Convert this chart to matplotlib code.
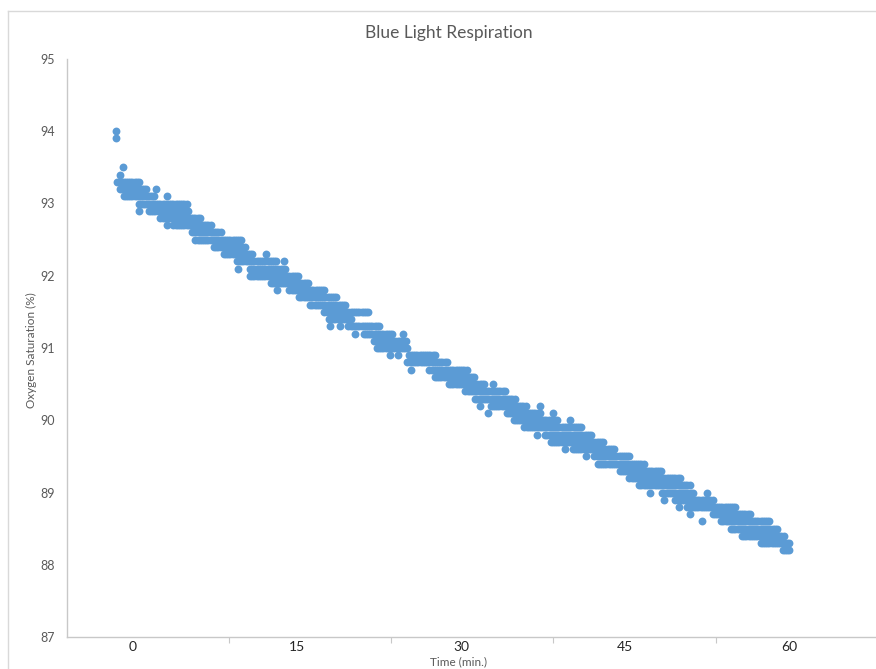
import numpy as np
import matplotlib
matplotlib.use("Agg")
import matplotlib.pyplot as plt
from matplotlib.lines import Line2D

# Oxygen saturation readings (%), read off the chart as horizontal runs of
# samples: each run is one saturation level held from run_start to run_end (min).
run_level = [
    94.0, 93.9, 93.5, 93.4, 93.3, 93.2, 93.2, 93.1, 93.1, 93.0,
    92.9, 92.9, 92.8, 92.7, 92.7, 92.6, 92.5, 92.4, 92.3, 92.3,
    92.2, 92.2, 92.1, 92.1, 92.0, 91.9, 91.8, 91.8, 91.7, 91.6,
    91.5, 91.4, 91.3, 91.3, 91.3, 91.2, 91.2, 91.2, 91.1, 91.0,
    90.9, 90.9, 90.9, 90.8, 90.7, 90.7, 90.6, 90.5, 90.5, 90.4,
    90.3, 90.2, 90.2, 90.2, 90.1, 90.1, 90.1, 90.0, 90.0, 89.9,
    89.8, 89.8, 89.7, 89.6, 89.6, 89.5, 89.5, 89.4, 89.3, 89.2,
    89.1, 89.0, 89.0, 89.0, 88.9, 88.9, 88.8, 88.8, 88.7, 88.7,
    88.6, 88.6, 88.5, 88.4, 88.3, 88.2,
]
run_start = [
    -1.55, -1.55, -0.9, -1.2, -1.45, -1.2, 2.1, -0.85, 3.1, 0.5,
    0.55, 1.45, 2.5, 3.1, 3.7, 5.4, 5.7, 7.4, 8.3, 12.2,
    9.5, 13.8, 9.6, 10.7, 10.7, 12.6, 13.2, 14.3, 15.2, 16.2,
    17.5, 17.9, 18.0, 18.9, 19.7, 20.3, 21.1, 24.7, 22.0, 22.3,
    23.5, 24.2, 25.2, 25.1, 25.4, 27.1, 27.6, 28.9, 32.9, 30.4,
    31.3, 31.7, 32.7, 37.2, 32.5, 34.2, 38.4, 34.8, 40.0, 35.8,
    36.9, 37.7, 38.2, 39.5, 40.2, 41.4, 42.2, 42.5, 44.5, 45.4,
    46.3, 47.3, 48.4, 52.5, 48.6, 49.6, 49.9, 50.7, 50.9, 53.0,
    52.0, 53.8, 54.7, 55.7, 57.4, 59.4,
]
run_end = [
    -1.55, -1.55, -0.9, -1.2, 0.6, 1.2, 2.1, 2.0, 3.1, 5.0,
    0.55, 5.2, 6.2, 3.1, 7.1, 8.0, 10.0, 10.2, 11.0, 12.2,
    13.1, 13.8, 9.6, 14.0, 15.1, 16.0, 13.2, 17.5, 18.7, 19.4,
    21.5, 20.0, 18.0, 18.9, 22.5, 20.3, 23.8, 24.7, 25.1, 25.1,
    23.5, 24.2, 27.6, 28.8, 25.4, 30.6, 31.2, 32.1, 32.9, 34.0,
    34.9, 31.7, 36.0, 37.2, 32.5, 37.3, 38.4, 38.9, 40.0, 41.0,
    36.9, 41.9, 43.1, 39.5, 44.0, 41.4, 45.4, 46.8, 48.3, 50.0,
    50.9, 47.3, 51.2, 52.5, 48.6, 53.0, 49.9, 55.2, 50.9, 56.5,
    52.0, 58.2, 59.0, 59.6, 60.1, 60.1,
]
sample_step = 0.2  # minutes between logged samples

x_tick_values = [0, 15, 30, 45, 60]
y_tick_values = [87, 88, 89, 90, 91, 92, 93, 94, 95]

times, sats = [], []
for lvl, t0, t1 in zip(run_level, run_start, run_end):
    ts = np.arange(t0, t1 + 1e-9, sample_step)
    times.extend(ts)
    sats.extend([lvl] * len(ts))

plt.rcParams["font.family"] = ["Lato", "DejaVu Sans"]

fig = plt.figure(figsize=(8.76, 6.69), dpi=100)
ax = fig.add_axes([67 / 876, 32 / 669, 1 - 67 / 876, 578 / 669])

ax.scatter(times, sats, s=32, color="#5B9BD5", linewidths=0, zorder=3)

ax.set_xlim(-6.04, 67.95)
ax.set_ylim(87, 95)

# category-style axis: labels on values, tick marks in between
ax.set_xticks(x_tick_values)
ax.set_xticklabels([str(v) for v in x_tick_values], fontsize=10, color="#262626")
ax.tick_params(axis="x", which="major", length=0, pad=3)
ax.set_xticks([-6.04 + 14.83 * k for k in range(1, 5)], minor=True)
ax.tick_params(axis="x", which="minor", length=4, width=0.8, color="#C8C8C8")

ax.set_yticks(y_tick_values)
ax.set_yticklabels([str(v) for v in y_tick_values], fontsize=9, color="#595959")
ax.tick_params(axis="y", length=0, pad=8.5)

for side in ("top", "right"):
    ax.spines[side].set_visible(False)
for side in ("left", "bottom"):
    ax.spines[side].set_color("#C8C8C8")
    ax.spines[side].set_linewidth(1.0)

fig.text(449 / 876, 1 - 33 / 669, "Blue Light Respiration", ha="center",
         va="center", fontsize=12.5, color="#595959")
fig.text(31 / 876, 1 - 350 / 669, "Oxygen Saturation (%)", rotation=90,
         ha="center", va="center", fontsize=8.5, color="#595959")
fig.text(458 / 876, 1 - 662 / 669, "Time (min.)", ha="center", va="center",
         fontsize=8.5, color="#595959")

# chart-area border (only left and top edges fall inside the crop)
fig.add_artist(Line2D([8 / 876, 8 / 876], [0, 1 - 11 / 669],
                      transform=fig.transFigure, color="#D9D9D9", lw=1))
fig.add_artist(Line2D([8 / 876, 1], [1 - 11 / 669, 1 - 11 / 669],
                      transform=fig.transFigure, color="#D9D9D9", lw=1))

fig.savefig("out.png", dpi=100)
